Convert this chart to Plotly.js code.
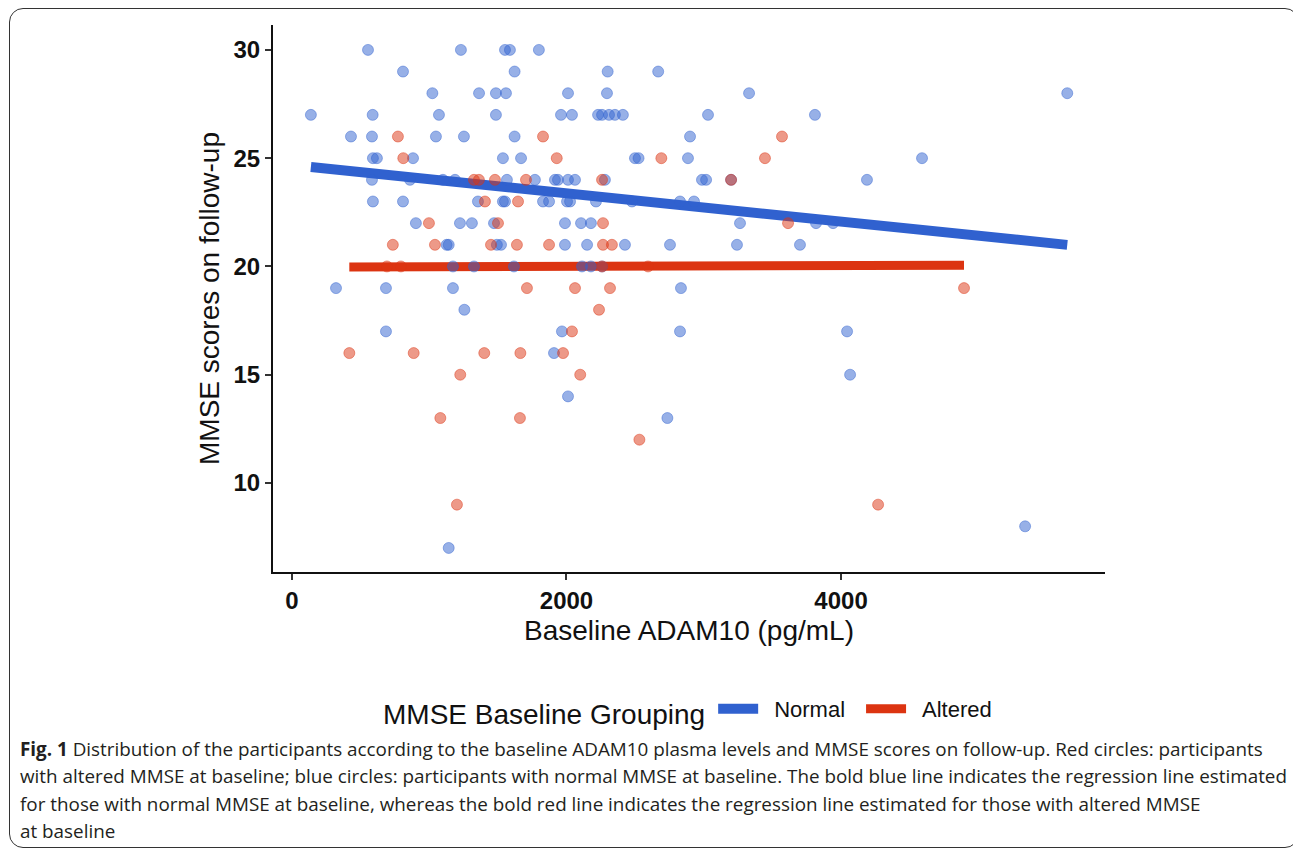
<!DOCTYPE html>
<html>
<head>
<meta charset="utf-8">
<script src="https://cdn.plot.ly/plotly-3.0.1.min.js"></script>
<style>
  html, body { margin: 0; padding: 0; background: #fff; }
  #wrap { position: relative; width: 1293px; height: 852px; overflow: hidden; }
  #chart { position: absolute; left: 0; top: 0; width: 1293px; height: 852px; }
  #frame { position: absolute; left: 9px; top: 8px; width: 1290px; height: 840px;
           border: 1.5px solid #333; border-radius: 14px; box-sizing: border-box; pointer-events: none; }
  #caption { position: absolute; left: 20px; top: 736px; font-family: "Open Sans", sans-serif;
             font-size: 18.85px; line-height: 27.3px; color: #231f20; white-space: nowrap; }
  #caption b { font-weight: 700; }
</style>
</head>
<body>
<div id="wrap">
  <div id="chart"></div>
  <div id="frame"></div>
  <div id="caption">
    <div><b>Fig. 1</b> Distribution of the participants according to the baseline ADAM10 plasma levels and MMSE scores on follow-up. Red circles: participants</div>
    <div>with altered MMSE at baseline; blue circles: participants with normal MMSE at baseline. The bold blue line indicates the regression line estimated</div>
    <div>for those with normal MMSE at baseline, whereas the bold red line indicates the regression line estimated for those with altered MMSE</div>
    <div>at baseline</div>
  </div>
</div>
<script>
// ---- Data (x = baseline ADAM10 pg/mL, y = MMSE follow-up) ----
const normalX = [
  554, 1231, 1552, 1588, 1799,
  809, 1622, 2300, 2668,
  1023, 1363, 1486, 1559, 2011, 2295, 3330, 5648,
  138, 588, 1071, 1486, 1960, 2040, 2230, 2259, 2310, 2353, 2411, 3031, 3810,
  430, 583, 1049, 1253, 1622, 2900,
  590, 619, 882, 1537, 1669, 2499, 2525, 2885, 4590,
  583, 860, 1100, 1188, 1566, 1770, 1916, 1938, 2011, 2062, 2280, 2987, 3017, 3199, 4189,
  590, 809, 1355, 1537, 1552, 1829, 1873, 2004, 2026, 2215, 2477, 2827, 2929,
  903, 1224, 1311, 1472, 1989, 2106, 2178, 3264, 3818, 3942,
  1127, 1142, 1493, 1523, 1989, 2150, 2426, 2754, 3242, 3701,
  1173, 1326, 1617, 2113, 2178, 2259,
  321, 685, 1173, 2834,
  1256,
  685, 1967, 2827, 4044,
  1909,
  4066,
  2011,
  2735,
  5341,
  1142
];
const normalY = [
  30, 30, 30, 30, 30,
  29, 29, 29, 29,
  28, 28, 28, 28, 28, 28, 28, 28,
  27, 27, 27, 27, 27, 27, 27, 27, 27, 27, 27, 27, 27,
  26, 26, 26, 26, 26, 26,
  25, 25, 25, 25, 25, 25, 25, 25, 25,
  24, 24, 24, 24, 24, 24, 24, 24, 24, 24, 24, 24, 24, 24, 24,
  23, 23, 23, 23, 23, 23, 23, 23, 23, 23, 23, 23, 23,
  22, 22, 22, 22, 22, 22, 22, 22, 22, 22,
  21, 21, 21, 21, 21, 21, 21, 21, 21, 21,
  20, 20, 20, 20, 20, 20,
  19, 19, 19, 19,
  18,
  17, 17, 17, 17,
  16,
  15,
  14,
  13,
  8,
  7
];
const alteredX = [
  772, 1829, 3570,
  811, 1929, 2691, 3446,
  1326, 1362, 1479, 1705, 2259, 3199,
  1406, 1647,
  998, 1501, 2266, 3614,
  735, 1042, 1450, 1639, 1873, 2266, 2331,
  692, 794, 2259, 2594,
  1712, 2062, 2317, 4896,
  2237,
  2040,
  418, 887, 1401, 1664, 1975,
  1226, 2100,
  1081, 1661,
  2531,
  1202, 4270
];
const alteredY = [
  26, 26, 26,
  25, 25, 25, 25,
  24, 24, 24, 24, 24, 24,
  23, 23,
  22, 22, 22, 22,
  21, 21, 21, 21, 21, 21, 21,
  20, 20, 20, 20,
  19, 19, 19, 19,
  18,
  17,
  16, 16, 16, 16, 16,
  15, 15,
  13, 13,
  12,
  9, 9
];
const groupNames = ["Normal", "Altered"];
const legendTitle = "MMSE Baseline Grouping";
const xTicks = [0, 2000, 4000];
const yTicks = [10, 15, 20, 25, 30];

// ---- Linear regression (ordinary least squares) over each group's range ----
function olsLine(xs, ys) {
  const n = xs.length;
  const mx = xs.reduce((a, b) => a + b, 0) / n;
  const my = ys.reduce((a, b) => a + b, 0) / n;
  let sxy = 0, sxx = 0;
  for (let i = 0; i < n; i++) { sxy += (xs[i] - mx) * (ys[i] - my); sxx += (xs[i] - mx) ** 2; }
  const b = sxy / sxx, a = my - b * mx;
  const x0 = Math.min(...xs), x1 = Math.max(...xs);
  return { x: [x0, x1], y: [a + b * x0, a + b * x1] };
}
const fitN = olsLine(normalX, normalY);
const fitA = olsLine(alteredX, alteredY);

const BLUE = "#3061CF", RED = "#DC3411";
const font = "Liberation Sans, Arial, Helvetica, sans-serif";
const pad = "\u2002"; // small gap between legend key and its label

const traces = [
  { x: fitA.x, y: fitA.y, mode: "lines", name: pad + groupNames[1], legendrank: 2,
    line: { color: RED, width: 9 }, hoverinfo: "skip" },
  { x: fitN.x, y: fitN.y, mode: "lines", name: pad + groupNames[0] + pad, legendrank: 1,
    line: { color: BLUE, width: 10 }, hoverinfo: "skip" },
  { x: normalX, y: normalY, mode: "markers", name: groupNames[0], showlegend: false,
    marker: { size: 11, color: "rgba(48,97,207,0.5)", line: { color: "rgba(48,97,207,0.45)", width: 1 } } },
  { x: alteredX, y: alteredY, mode: "markers", name: groupNames[1], showlegend: false,
    marker: { size: 11, color: "rgba(220,52,17,0.5)", line: { color: "rgba(220,52,17,0.45)", width: 1 } } }
];

const layout = {
  width: 1293, height: 852,
  margin: { l: 273, r: 188, t: 25, b: 280 },
  paper_bgcolor: "#fff", plot_bgcolor: "#fff",
  font: { family: font, color: "#111" },
  showlegend: true,
  legend: {
    orientation: "h", x: 0.5, xanchor: "center", y: -0.255, yanchor: "middle",
    title: { text: legendTitle, side: "left", font: { size: 28, color: "#111" } },
    font: { size: 22, color: "#111" }, traceorder: "normal", itemwidth: 40,
    valign: "middle"
  },
  xaxis: {
    range: [-138, 5923], autorange: false, zeroline: false, showgrid: false,
    showline: true, linecolor: "#111", linewidth: 2,
    ticks: "outside", ticklen: 6, tickwidth: 2, tickcolor: "#333",
    tickvals: xTicks, ticktext: xTicks.map(String),
    tickfont: { size: 24, family: font, weight: "bold", color: "#111" },
    title: { text: "Baseline ADAM10 (pg/mL)", font: { size: 28, color: "#111" }, standoff: 8 }
  },
  yaxis: {
    range: [5.89, 31.15], autorange: false, zeroline: false, showgrid: false,
    showline: true, linecolor: "#111", linewidth: 2,
    ticks: "outside", ticklen: 6, tickwidth: 2, tickcolor: "#333",
    tickvals: yTicks, ticktext: yTicks.map(String),
    tickfont: { size: 24, family: font, weight: "bold", color: "#111" },
    title: { text: "MMSE scores on follow-up", font: { size: 28, color: "#111" }, standoff: 6 }
  }
};

Plotly.newPlot("chart", traces, layout, { displayModeBar: false, staticPlot: true });
</script>
</body>
</html>
